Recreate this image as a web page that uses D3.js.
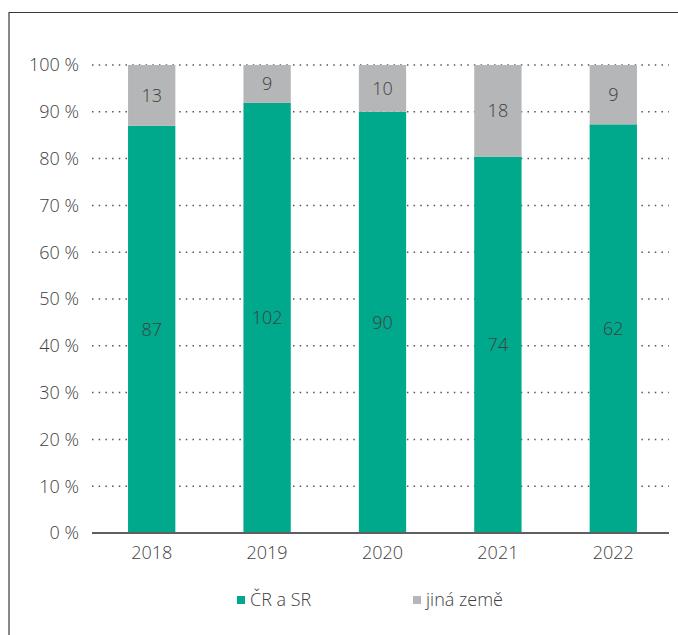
<!DOCTYPE html>
<html>
<head>
<meta charset="utf-8">
<script src="https://cdn.jsdelivr.net/npm/d3@7"></script>
<style>
  body { margin: 0; background: #fff; }
  text { font-family: "Open Sans", sans-serif; fill: #404040; }
</style>
</head>
<body>
<div id="wrapper"></div>
<script>
// Data
const years = ['2018', '2019', '2020', '2021', '2022']
const domestic = [87, 102, 90, 74, 62]   // ČR a SR
const foreign = [13, 9, 10, 18, 9]       // jiná země
const seriesNames = ['ČR a SR', 'jiná země']
const yTicks = [0, 10, 20, 30, 40, 50, 60, 70, 80, 90, 100]

function drawChart() {
  const dimensions = {
    width: 678,
    height: 635,
    margin: { top: 65, right: 9, bottom: 102, left: 92 },
  }
  dimensions.boundedWidth = dimensions.width - dimensions.margin.left - dimensions.margin.right
  dimensions.boundedHeight = dimensions.height - dimensions.margin.top - dimensions.margin.bottom

  const colors = ['#00a88c', '#b5b6b8']

  const rows = years.map((year, i) => {
    const total = domestic[i] + foreign[i]
    return { year, domestic: domestic[i], foreign: foreign[i], total }
  })

  const svg = d3.select('#wrapper')
    .append('svg')
    .attr('width', dimensions.width)
    .attr('height', dimensions.height)

  // frame (top + left edge of the box)
  svg.append('path')
    .attr('d', `M9,${dimensions.height} V12.5 H${dimensions.width}`)
    .attr('fill', 'none')
    .attr('stroke', '#3a3a3a')
    .attr('stroke-width', 1.2)

  const bounds = svg.append('g')
    .attr('transform', `translate(${dimensions.margin.left},${dimensions.margin.top})`)

  // Scales - bars sit a touch right of the plot centre in the original
  const xScale = d3.scaleBand()
    .domain(years)
    .range([2, dimensions.boundedWidth + 2])
    .paddingInner(0.59)
    .paddingOuter(0.295)

  const yScale = d3.scaleLinear()
    .domain([0, 100])
    .range([dimensions.boundedHeight, 0])

  // Gridlines
  bounds.append('g')
    .selectAll('line')
    .data(yTicks.filter(d => d > 0))
    .join('line')
    .attr('x1', 0)
    .attr('x2', dimensions.boundedWidth)
    .attr('y1', d => yScale(d))
    .attr('y2', d => yScale(d))
    .attr('stroke', '#555')
    .attr('stroke-width', 1.5)
    .attr('stroke-dasharray', '1.5,5.2')

  // Stacked 100% bars
  const stack = d3.stack()
    .keys(['domestic', 'foreign'])
    .offset(d3.stackOffsetExpand)
  const series = stack(rows)

  const groups = bounds.selectAll('.series')
    .data(series)
    .join('g')
    .attr('class', 'series')
    .attr('fill', (d, i) => colors[i])

  groups.selectAll('rect')
    .data(d => d.map(v => ({ lo: v[0], hi: v[1], row: v.data, key: d.key })))
    .join('rect')
    .attr('x', d => xScale(d.row.year))
    .attr('width', xScale.bandwidth())
    .attr('y', d => yScale(d.hi * 100))
    .attr('height', d => yScale(d.lo * 100) - yScale(d.hi * 100))

  // Value labels
  groups.selectAll('text')
    .data(d => d.map(v => ({ lo: v[0], hi: v[1], row: v.data, key: d.key })))
    .join('text')
    .attr('x', d => xScale(d.row.year) + xScale.bandwidth() / 2)
    .attr('y', d => yScale((d.lo + d.hi) / 2 * 100))
    .attr('dy', '0.35em')
    .attr('text-anchor', 'middle')
    .style('font-size', '18px')
    .style('font-weight', 300)
    .text(d => d.row[d.key])

  // Y axis labels
  bounds.append('g')
    .selectAll('text')
    .data(yTicks)
    .join('text')
    .attr('x', -13)
    .attr('y', d => yScale(d))
    .attr('dy', '0.35em')
    .attr('text-anchor', 'end')
    .style('font-size', '18px')
    .style('font-weight', 300)
    .text(d => `${d} %`)

  // Baseline
  bounds.append('line')
    .attr('x1', 0)
    .attr('x2', dimensions.boundedWidth)
    .attr('y1', dimensions.boundedHeight)
    .attr('y2', dimensions.boundedHeight)
    .attr('stroke', '#5f5f5f')
    .attr('stroke-width', 2)

  // X axis labels
  bounds.append('g')
    .selectAll('text')
    .data(years)
    .join('text')
    .attr('x', d => xScale(d) + xScale.bandwidth() / 2)
    .attr('y', dimensions.boundedHeight + 26)
    .attr('text-anchor', 'middle')
    .style('font-size', '18px')
    .style('font-weight', 300)
    .text(d => d)

  // Legend
  const legendX = [237, 413]
  const legend = svg.append('g')
    .selectAll('g')
    .data(seriesNames)
    .join('g')
    .attr('transform', (d, i) => `translate(${legendX[i]},596)`)

  legend.append('rect')
    .attr('width', 8)
    .attr('height', 8)
    .attr('fill', (d, i) => colors[i])

  legend.append('text')
    .attr('x', 13)
    .attr('y', 4)
    .attr('dy', '0.35em')
    .style('font-size', '18px')
    .style('font-weight', 300)
    .text(d => d)
}
drawChart()
</script>
</body>
</html>
